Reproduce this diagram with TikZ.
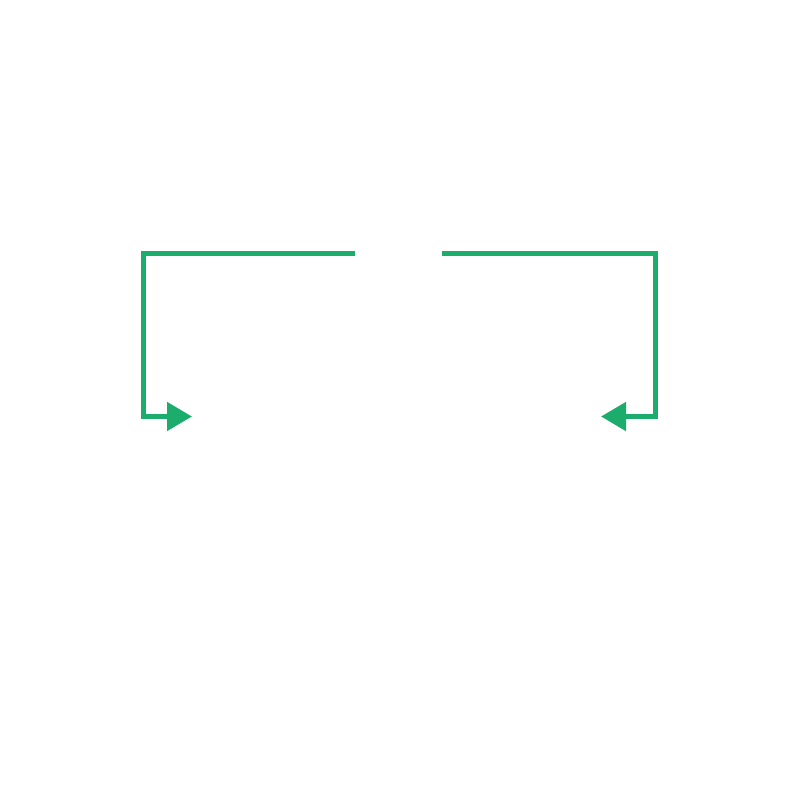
\documentclass[tikz,border=0pt]{standalone}
\usetikzlibrary{arrows.meta}
\definecolor{flowgreen}{RGB}{28,172,108}
\tikzset{
  elbow/.style={draw=flowgreen, line width=5pt, -{Triangle[length=25pt,width=28pt]}, line join=miter}
}
\begin{document}
\begin{tikzpicture}[x=1pt,y=-1pt]
\useasboundingbox (0,0) rectangle (800,800);
\coordinate (lstart) at (355,253.5);
\coordinate (lend) at (192,416.5);
\coordinate (rstart) at (442,253.5);
\coordinate (rend) at (601,416.5);
\draw[elbow] (lstart) -- (143.5,253.5) -- (143.5,416.5) -- (lend);
\draw[elbow] (rstart) -- (655,253.5) -- (655,416.5) -- (rend);
\end{tikzpicture}
\end{document}
